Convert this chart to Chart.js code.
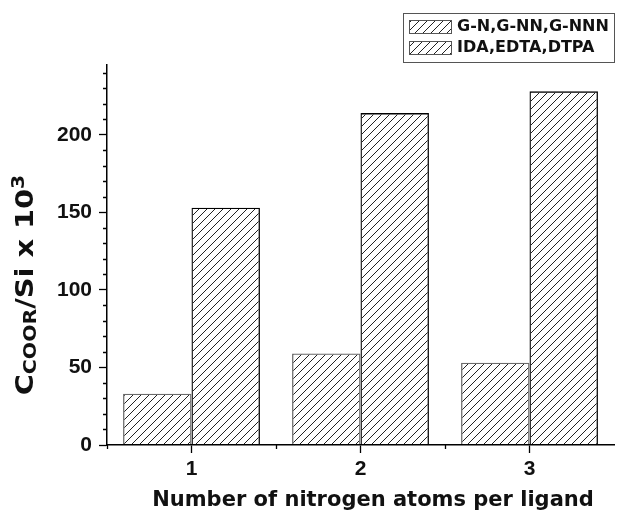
<!DOCTYPE html>
<html>
<head>
<meta charset="utf-8">
<script src="https://cdn.jsdelivr.net/npm/chart.js@4/dist/chart.umd.min.js"></script>
<style>
  html, body { margin: 0; padding: 0; background: #ffffff; }
  #wrap { width: 631px; height: 511px; position: relative; }
</style>
</head>
<body>
<div id="wrap"><canvas id="c" width="631" height="511"></canvas></div>
<script>
// ---- data ----
const categories = ['1', '2', '3'];
const seriesNames = ['G-N,G-NN,G-NNN', 'IDA,EDTA,DTPA'];
const seriesA = [33, 59, 53];
const seriesB = [153, 214, 228];
const yTickStep = 50;
const yMax = 245;
const xTitle = 'Number of nitrogen atoms per ligand';
const yTitleParts = [
  { text: 'C', role: 'main' },
  { text: 'COOR', role: 'sub' },
  { text: '/Si x 10', role: 'main' },
  { text: '3', role: 'sup' }
];

// ---- styling helpers ----
const canvas = document.getElementById('c');
const ctx0 = canvas.getContext('2d');

function makeHatch(color) {
  const s = 8;
  const c = document.createElement('canvas');
  c.width = s; c.height = s;
  const g = c.getContext('2d');
  g.strokeStyle = color;
  g.lineWidth = 1;
  g.beginPath();
  g.moveTo(0, s); g.lineTo(s, 0);
  g.moveTo(-s / 2, s / 2); g.lineTo(s / 2, -s / 2);
  g.moveTo(s / 2, s * 1.5); g.lineTo(s * 1.5, s / 2);
  g.stroke();
  return ctx0.createPattern(c, 'repeat');
}
const hatch = makeHatch('#222');
const borderColors = ['#6a6a6a', '#000000'];

const tickFont = { family: '"Liberation Sans", Arial, sans-serif', weight: 'bold', size: 21 };
const titleFamily = '"DejaVu Sans", sans-serif';

// minor ticks
const minorTicks = {
  id: 'minorTicks',
  afterDraw(chart) {
    const { ctx, chartArea: a } = chart;
    const x = chart.scales.x, y = chart.scales.y;
    ctx.save();
    ctx.strokeStyle = '#000';
    ctx.lineWidth = 1.3;
    ctx.beginPath();
    for (let v = 10; v < yMax; v += 10) {
      if (v % yTickStep === 0) continue;
      const py = Math.round(y.getPixelForValue(v)) + 0.5;
      ctx.moveTo(a.left - 4, py); ctx.lineTo(a.left, py);
    }
    const step = x.getPixelForValue(1) - x.getPixelForValue(0);
    for (let i = 0; i < categories.length; i++) {
      const px = Math.round(x.getPixelForValue(i) - step / 2) + 0.5;
      ctx.moveTo(px, a.bottom); ctx.lineTo(px, a.bottom + 4);
    }
    ctx.stroke();
    ctx.restore();
  }
};

// axis titles (y title has sub/superscripts)
const axisTitles = {
  id: 'axisTitles',
  afterDraw(chart) {
    const ctx = chart.ctx;
    // x title
    ctx.save();
    ctx.font = 'bold 21px ' + titleFamily;
    ctx.fillStyle = '#111';
    ctx.textAlign = 'center';
    ctx.textBaseline = 'alphabetic';
    ctx.fillText(xTitle, 373, 506);
    ctx.restore();

    // y title
    const sizes = { main: 24, sub: 17, sup: 17 };
    const shift = { main: 0, sub: 3, sup: -9 };
    const stretch = 1.2;
    ctx.save();
    let total = 0;
    const widths = yTitleParts.map(p => {
      ctx.font = 'bold ' + sizes[p.role] + 'px ' + titleFamily;
      const w = ctx.measureText(p.text).width;
      total += w;
      return w;
    });
    ctx.translate(33, 285);
    ctx.rotate(-Math.PI / 2);
    ctx.scale(stretch, 1);
    ctx.fillStyle = '#111';
    ctx.textBaseline = 'alphabetic';
    ctx.textAlign = 'left';
    let cx = -total / 2;
    yTitleParts.forEach((p, i) => {
      ctx.font = 'bold ' + sizes[p.role] + 'px ' + titleFamily;
      ctx.fillText(p.text, cx, shift[p.role]);
      cx += widths[i];
    });
    ctx.restore();
  }
};

// boxed legend in the top-right corner
const boxLegend = {
  id: 'boxLegend',
  afterDraw(chart) {
    const ctx = chart.ctx;
    const a = chart.chartArea;
    const boxRight = a.right;
    const boxLeft = boxRight - 211;
    const boxTop = 13, rowH = 21;
    ctx.save();
    ctx.strokeStyle = '#555';
    ctx.lineWidth = 1;
    ctx.strokeRect(boxLeft + 0.5, boxTop + 0.5, boxRight - boxLeft, 49);
    ctx.font = 'bold 16px ' + titleFamily;
    ctx.textBaseline = 'middle';
    chart.data.datasets.forEach((ds, i) => {
      const sy = boxTop + 7 + i * rowH;
      ctx.fillStyle = ds.backgroundColor;
      ctx.fillRect(boxLeft + 6, sy, 42, 13);
      ctx.strokeStyle = '#555';
      ctx.strokeRect(boxLeft + 6.5, sy + 0.5, 42, 13);
      ctx.fillStyle = '#111';
      ctx.fillText(ds.label, boxLeft + 54, sy + 7);
    });
    ctx.restore();
  }
};

new Chart(canvas, {
  type: 'bar',
  data: {
    labels: categories,
    datasets: [
      { label: seriesNames[0], data: seriesA, backgroundColor: hatch, borderColor: borderColors[0],
        borderWidth: 1.3, categoryPercentage: 0.81, barPercentage: 1 },
      { label: seriesNames[1], data: seriesB, backgroundColor: hatch, borderColor: borderColors[1],
        borderWidth: 1.3, categoryPercentage: 0.81, barPercentage: 1 }
    ]
  },
  options: {
    responsive: false,
    animation: false,
    devicePixelRatio: 1,
    layout: { padding: { top: 65, right: 17, left: 0, bottom: 0 } },
    plugins: { legend: { display: false }, tooltip: { enabled: false } },
    scales: {
      x: {
        offset: true,
        grid: { display: true, drawOnChartArea: false, offset: false, tickLength: 8, tickColor: '#000', tickWidth: 1.3 },
        border: { display: true, color: '#000', width: 1.5, z: 1 },
        ticks: { font: tickFont, color: '#111', padding: 4 },
        title: { display: false, text: xTitle },
        afterFit(s) { s.height = 66; }
      },
      y: {
        min: 0, max: yMax,
        grid: { display: true, drawOnChartArea: false, tickLength: 8, tickColor: '#000', tickWidth: 1.3 },
        border: { display: true, color: '#000', width: 1.5, z: 1 },
        ticks: { stepSize: yTickStep, includeBounds: false, font: tickFont, color: '#111', padding: 7 },
        afterFit(s) { s.width = 107; }
      }
    }
  },
  plugins: [minorTicks, axisTitles, boxLegend]
});
</script>
</body>
</html>
